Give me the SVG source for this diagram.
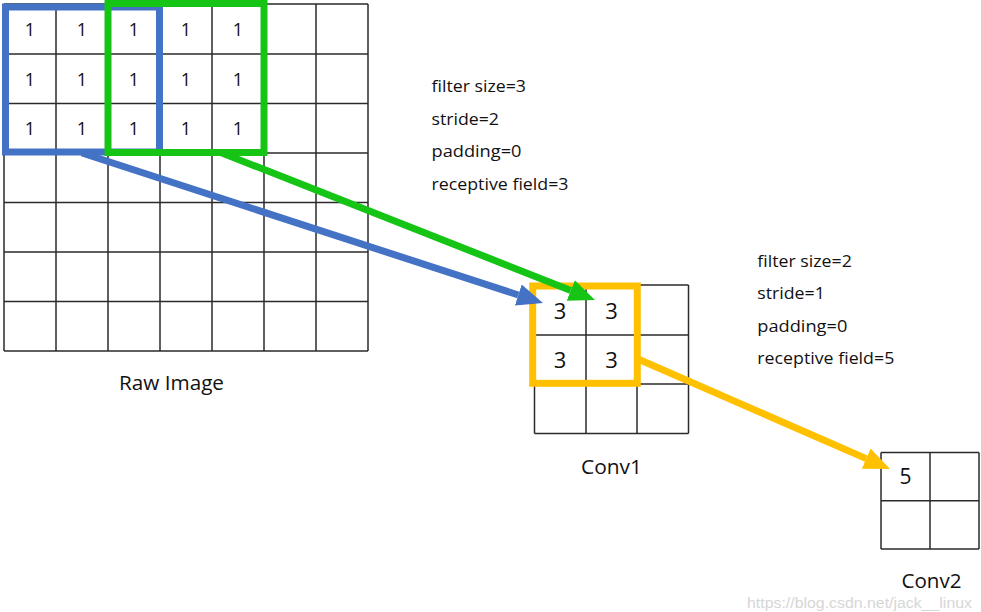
<svg xmlns="http://www.w3.org/2000/svg" width="981" height="612" viewBox="0 0 981 612">
<style>
.bg{fill:#ffffff}
.grid line{stroke:#2a2a2a;stroke-width:1.5}
.num{font-family:"Open Sans","Noto Sans","Liberation Sans",sans-serif;fill:#111;text-anchor:middle}
.lbl{font-family:"Open Sans","Noto Sans","Liberation Sans",sans-serif;fill:#111}
.par{font-family:"Open Sans","Noto Sans","Liberation Sans",sans-serif;font-size:17px;fill:#111}
.wm{font-family:"Liberation Sans","Arial",sans-serif;font-size:14px;fill:#d6d6d6}
.win{fill:none;stroke-width:7}
.conn{fill:none;stroke-width:7}
</style>
<defs>
<marker id="ahBlue" markerUnits="userSpaceOnUse" markerWidth="26" markerHeight="22" refX="0" refY="11" orient="auto"><path d="M0,0 L26,11 L0,22 z" fill="#4472C4"/></marker>
<marker id="ahGreen" markerUnits="userSpaceOnUse" markerWidth="26" markerHeight="22" refX="0" refY="11" orient="auto"><path d="M0,0 L26,11 L0,22 z" fill="#16C416"/></marker>
<marker id="ahGold" markerUnits="userSpaceOnUse" markerWidth="26" markerHeight="22" refX="0" refY="11" orient="auto"><path d="M0,0 L26,11 L0,22 z" fill="#FFC000"/></marker>
</defs>
<rect class="bg" x="0" y="0" width="981" height="612"/>

<g id="raw-image">
<g class="grid">
<line x1="4" y1="4" x2="4" y2="351"/><line x1="56" y1="4" x2="56" y2="351"/><line x1="108" y1="4" x2="108" y2="351"/><line x1="160" y1="4" x2="160" y2="351"/><line x1="212" y1="4" x2="212" y2="351"/><line x1="264" y1="4" x2="264" y2="351"/><line x1="316" y1="4" x2="316" y2="351"/><line x1="368" y1="4" x2="368" y2="351"/>
<line x1="4" y1="4" x2="368" y2="4"/><line x1="4" y1="54" x2="368" y2="54"/><line x1="4" y1="103.5" x2="368" y2="103.5"/><line x1="4" y1="153" x2="368" y2="153"/><line x1="4" y1="202.5" x2="368" y2="202.5"/><line x1="4" y1="252" x2="368" y2="252"/><line x1="4" y1="301.5" x2="368" y2="301.5"/><line x1="4" y1="351" x2="368" y2="351"/>
</g>
<g class="num" font-size="18">
<text x="30" y="36">1</text><text x="82" y="36">1</text><text x="134" y="36">1</text><text x="186" y="36">1</text><text x="238" y="36">1</text>
<text x="30" y="85.5">1</text><text x="82" y="85.5">1</text><text x="134" y="85.5">1</text><text x="186" y="85.5">1</text><text x="238" y="85.5">1</text>
<text x="30" y="135">1</text><text x="82" y="135">1</text><text x="134" y="135">1</text><text x="186" y="135">1</text><text x="238" y="135">1</text>
</g>
<text class="lbl" x="119" y="390" font-size="20" textLength="105" lengthAdjust="spacingAndGlyphs">Raw Image</text>
</g>

<g id="window-blue"><rect class="win" x="5.5" y="7" width="154" height="145" stroke="#4472C4" stroke-width="6"/></g>
<g id="window-green"><rect class="win" x="108" y="3.5" width="156" height="149" stroke="#16C416"/></g>

<g id="conv1">
<g class="grid">
<line x1="534.5" y1="285" x2="534.5" y2="433.5"/><line x1="586" y1="285" x2="586" y2="433.5"/><line x1="637" y1="285" x2="637" y2="433.5"/><line x1="688.5" y1="285" x2="688.5" y2="433.5"/>
<line x1="534.5" y1="285" x2="688.5" y2="285"/><line x1="534.5" y1="335" x2="688.5" y2="335"/><line x1="534.5" y1="384" x2="688.5" y2="384"/><line x1="534.5" y1="433.5" x2="688.5" y2="433.5"/>
</g>
<g class="num" font-size="22">
<text x="560" y="318.5">3</text><text x="611.5" y="318.5">3</text>
<text x="560" y="368">3</text><text x="611.5" y="368">3</text>
</g>
<text class="lbl" x="581" y="474" font-size="20" textLength="61" lengthAdjust="spacingAndGlyphs">Conv1</text>
</g>

<g id="window-gold"><rect class="win" x="532.7" y="286" width="104.6" height="97.3" stroke="#FFC000"/></g>

<g id="conv2">
<g class="grid">
<line x1="881" y1="452.5" x2="881" y2="549"/><line x1="930" y1="452.5" x2="930" y2="549"/><line x1="979" y1="452.5" x2="979" y2="549"/>
<line x1="881" y1="452.5" x2="979" y2="452.5"/><line x1="881" y1="500.7" x2="979" y2="500.7"/><line x1="881" y1="549" x2="979" y2="549"/>
</g>
<text class="num" x="905.5" y="484" font-size="21">5</text>
<text class="lbl" x="901.5" y="588" font-size="20" textLength="60" lengthAdjust="spacingAndGlyphs">Conv2</text>
</g>

<g id="params1">
<text class="par" x="431.5" y="92" textLength="94.5" lengthAdjust="spacingAndGlyphs">filter size=3</text>
<text class="par" x="431.5" y="124.5" textLength="67.5" lengthAdjust="spacingAndGlyphs">stride=2</text>
<text class="par" x="431.5" y="157" textLength="90" lengthAdjust="spacingAndGlyphs">padding=0</text>
<text class="par" x="431.5" y="189.5" textLength="137" lengthAdjust="spacingAndGlyphs">receptive field=3</text>
</g>
<g id="params2">
<text class="par" x="757.3" y="266.5" textLength="94.5" lengthAdjust="spacingAndGlyphs">filter size=2</text>
<text class="par" x="757.3" y="299" textLength="67.5" lengthAdjust="spacingAndGlyphs">stride=1</text>
<text class="par" x="757.3" y="331.5" textLength="90" lengthAdjust="spacingAndGlyphs">padding=0</text>
<text class="par" x="757.3" y="364" textLength="137" lengthAdjust="spacingAndGlyphs">receptive field=5</text>
</g>

<g id="connectors">
<line class="conn" x1="82" y1="153" x2="518.3" y2="295" stroke="#4472C4" marker-end="url(#ahBlue)"/>
<line class="conn" x1="222" y1="153" x2="570.8" y2="290.4" stroke="#16C416" marker-end="url(#ahGreen)"/>
<line class="conn" x1="638" y1="359" x2="866.2" y2="458.6" stroke="#FFC000" marker-end="url(#ahGold)"/>
</g>

<text class="wm" x="747" y="608" textLength="225" lengthAdjust="spacingAndGlyphs">https://blog.csdn.net/jack__linux</text>
</svg>
